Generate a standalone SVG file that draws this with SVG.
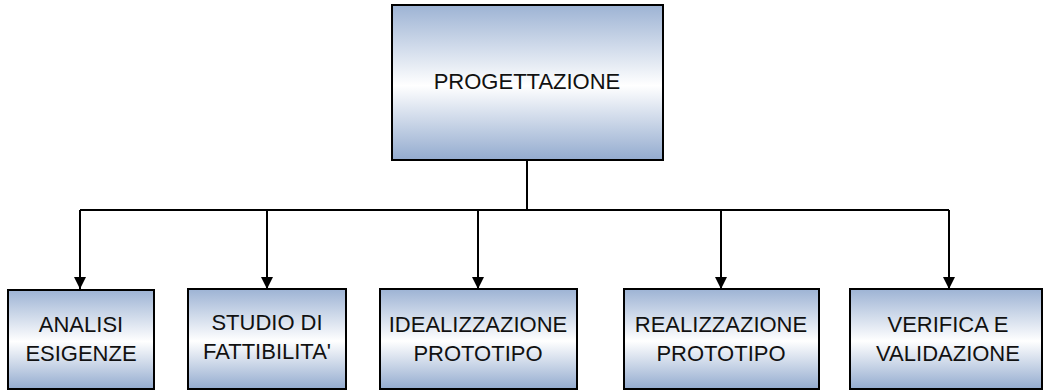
<svg xmlns="http://www.w3.org/2000/svg" width="1043" height="390" viewBox="0 0 1043 390">
  <defs>
    <linearGradient id="boxFill" x1="0" y1="0" x2="0" y2="1">
      <stop offset="0" stop-color="#9db3d4"/>
      <stop offset="0.52" stop-color="#ffffff"/>
      <stop offset="1" stop-color="#93abcf"/>
    </linearGradient>
    <marker id="arrow" markerWidth="12" markerHeight="12" refX="12" refY="6" orient="auto" markerUnits="userSpaceOnUse">
      <path d="M0,0 L12,6 L0,12 Z" fill="#000"/>
    </marker>
  </defs>
  <style>
    .box { fill: url(#boxFill); stroke: #000; stroke-width: 2; }
    .label { font-family: "Liberation Sans", Arial, sans-serif; font-size: 22px; fill: #111; text-anchor: middle; }
    .wire { fill: none; stroke: #000; stroke-width: 2; }
  </style>
  <rect width="1043" height="390" fill="#fff"/>

  <g id="connectors">
    <path class="wire" d="M527,160 V210"/>
    <path class="wire" d="M80,210 H949"/>
    <path class="wire" d="M80,210 V289" marker-end="url(#arrow)"/>
    <path class="wire" d="M267,210 V289" marker-end="url(#arrow)"/>
    <path class="wire" d="M478,210 V289" marker-end="url(#arrow)"/>
    <path class="wire" d="M721,210 V289" marker-end="url(#arrow)"/>
    <path class="wire" d="M949,210 V289" marker-end="url(#arrow)"/>
  </g>

  <g id="progettazione">
    <rect class="box" x="392" y="5" width="271" height="155"/>
    <text class="label" x="527" y="89">PROGETTAZIONE</text>
  </g>

  <g id="analisi-esigenze">
    <rect class="box" x="8" y="290" width="146" height="99"/>
    <text class="label" x="81" y="332">ANALISI</text>
    <text class="label" x="81" y="361">ESIGENZE</text>
  </g>

  <g id="studio-fattibilita">
    <rect class="box" x="188" y="289" width="158" height="100"/>
    <text class="label" x="267" y="330">STUDIO DI</text>
    <text class="label" x="267" y="359">FATTIBILITA'</text>
  </g>

  <g id="idealizzazione-prototipo">
    <rect class="box" x="380" y="289" width="197" height="100"/>
    <text class="label" x="478" y="332">IDEALIZZAZIONE</text>
    <text class="label" x="478" y="361">PROTOTIPO</text>
  </g>

  <g id="realizzazione-prototipo">
    <rect class="box" x="624" y="289" width="195" height="100"/>
    <text class="label" x="721" y="332">REALIZZAZIONE</text>
    <text class="label" x="721" y="361">PROTOTIPO</text>
  </g>

  <g id="verifica-validazione">
    <rect class="box" x="850" y="289" width="192" height="100"/>
    <text class="label" x="948" y="332">VERIFICA E</text>
    <text class="label" x="948" y="361">VALIDAZIONE</text>
  </g>
</svg>
